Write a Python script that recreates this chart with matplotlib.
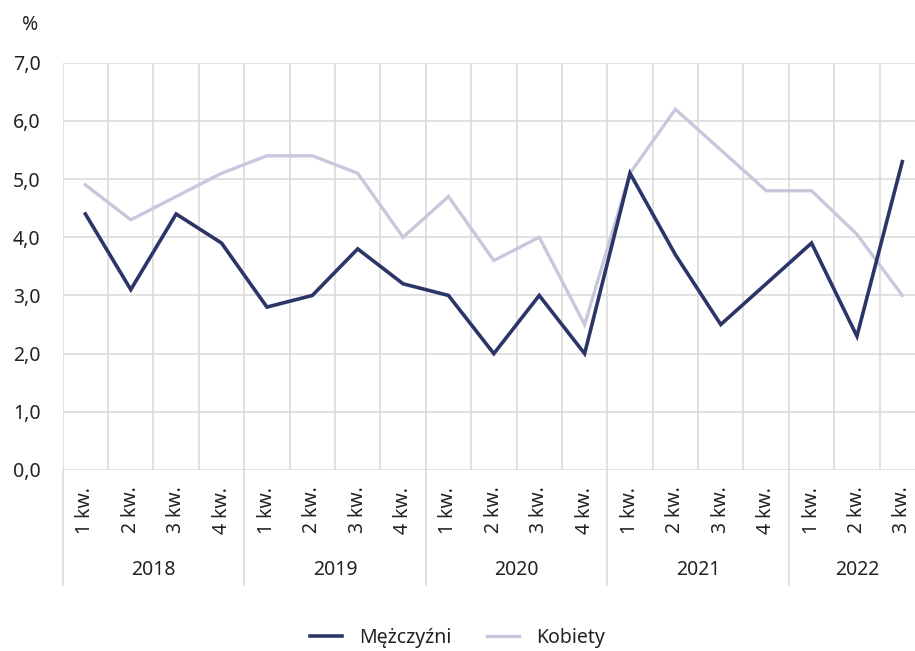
import numpy as np
import matplotlib
matplotlib.use('Agg')
import matplotlib.pyplot as plt
import matplotlib.transforms as mtransforms

plt.rcParams['font.family'] = ['Noto Sans', 'DejaVu Sans']

# dane
lata = ['2018', '2019', '2020', '2021', '2022']
kwartaly = ['1 kw.', '2 kw.', '3 kw.', '4 kw.'] * 4 + ['1 kw.', '2 kw.', '3 kw.']
mezczyzni = [4.4, 3.1, 4.4, 3.9, 2.8, 3.0, 3.8, 3.2, 3.0, 2.0, 3.0, 2.0,
             5.1, 3.7, 2.5, 3.2, 3.9, 2.3, 5.3]
kobiety = [4.9, 4.3, 4.7, 5.1, 5.4, 5.4, 5.1, 4.0, 4.7, 3.6, 4.0, 2.5,
           5.1, 6.2, 5.5, 4.8, 4.8, 4.05, 3.0]
yticks = [0, 1, 2, 3, 4, 5, 6, 7]

kolor_m = '#2c3568'
kolor_k = '#c9c7dc'
kolor_siatki = '#dcdcdf'
kolor_tekstu = '#222222'

fig = plt.figure(figsize=(9.15, 6.51), dpi=100)
ax = fig.add_axes([62.7 / 915, 181 / 651, (925 - 62.7) / 915, (470 - 62.7) / 651])

x = np.arange(len(kwartaly))
lk, = ax.plot(x, kobiety, color=kolor_k, lw=2.4, zorder=3, solid_joinstyle='miter')
lm, = ax.plot(x, mezczyzni, color=kolor_m, lw=2.6, zorder=4, solid_joinstyle='miter')

ax.set_xlim(-0.5, len(kwartaly) - 0.5)
ax.set_ylim(0, 7)

# os Y
ax.set_yticks(yticks)
ax.set_yticklabels([f'{v:.1f}'.replace('.', ',') for v in yticks])
ax.tick_params(axis='y', length=0, pad=16, labelsize=14, labelcolor=kolor_tekstu)
ax.grid(axis='y', which='major', color=kolor_siatki, lw=1.2)

# os X - kwartaly
ax.set_xticks(x)
ax.set_xticklabels(kwartaly, rotation=90, va='top')
ax.tick_params(axis='x', which='major', length=0, pad=12, labelsize=14, labelcolor=kolor_tekstu)
ax.set_xticks(np.arange(-0.5, len(kwartaly)), minor=True)
ax.tick_params(axis='x', which='minor', length=0)
ax.grid(axis='x', which='minor', color=kolor_siatki, lw=1.2)

for s in ax.spines.values():
    s.set_visible(False)

# lata pod osia
trans = mtransforms.blended_transform_factory(ax.transData, ax.transAxes)
start = 0
for i, rok in enumerate(lata):
    n = 4 if i < 4 else 3
    srodek = start + (n - 1) / 2
    ax.text(srodek, -0.2455, rok, transform=trans, ha='center', va='center',
            fontsize=14, color=kolor_tekstu)
    ax.plot([start - 0.5, start - 0.5], [0, -0.282], transform=trans,
            color=kolor_siatki, lw=1.2, clip_on=False)
    start += n

fig.text(30 / 915, 1 - 25 / 651, '%', fontsize=14, color=kolor_tekstu, ha='center', va='center')

fig.legend([lm, lk], ['Mężczyźni', 'Kobiety'], loc='center', bbox_to_anchor=(0.5, 13 / 651),
           ncol=2, frameon=False, fontsize=14, handlelength=1.65, handletextpad=0.9,
           columnspacing=1.8, labelcolor=kolor_tekstu)

fig.savefig('out.png', dpi=100)
